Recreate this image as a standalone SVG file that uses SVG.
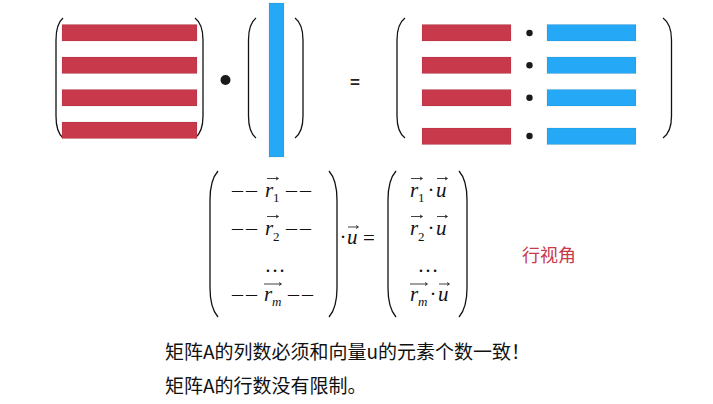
<svg xmlns="http://www.w3.org/2000/svg" width="713" height="404" viewBox="0 0 713 404">
<style>
.red{fill:#C8394B;stroke:#000;stroke-opacity:0.08;stroke-width:1}
.blue{fill:#25A9F6;stroke:#000;stroke-opacity:0.08;stroke-width:1}
.par{fill:none;stroke:#111;stroke-width:1.3}
.m{font-family:"Liberation Serif",serif;font-size:21px;fill:#111}
.d{font-family:"Liberation Serif",serif;font-size:22px;fill:#111;letter-spacing:3px}
.mi{font-family:"Liberation Serif",serif;font-size:21px;font-style:italic;fill:#111}
.sub{font-family:"Liberation Serif",serif;font-size:13px;fill:#111}
.subi{font-family:"Liberation Serif",serif;font-size:13px;font-style:italic;fill:#111}
.vec{fill:none;stroke:#111;stroke-width:0.8}
.cn{font-family:"Noto Sans CJK SC","Noto Sans",sans-serif;font-size:19px;fill:#111}
.lab{font-family:"Noto Sans CJK SC","Noto Sans",sans-serif;font-size:18px;fill:#C8394B}
</style>
<rect width="713" height="404" fill="#fff"/>
<g id="matrixA">
<path class="par" d="M63,18 Q56,24 56,40 L56,116 Q56,132 63,138"/>
<path class="par" d="M195,18 Q203,24 203,40 L203,116 Q203,132 195,138"/>
<rect class="red" x="62" y="24.5" width="135" height="16.5"/>
<rect class="red" x="62" y="57" width="135" height="16.5"/>
<rect class="red" x="62" y="89.5" width="135" height="16.5"/>
<rect class="red" x="62" y="122" width="135" height="16.5"/>
</g>
<g id="dotOp"><circle cx="225.5" cy="80" r="5" fill="#1a1a1a"/></g>
<g id="vectorU">
<path class="par" d="M256,18 Q248.5,24 248.5,40 L248.5,116 Q248.5,132 256,138"/>
<path class="par" d="M295,18 Q303,24 303,40 L303,116 Q303,132 295,138"/>
<rect class="blue" x="269" y="3" width="15" height="154"/>
</g>
<g id="equals"><text x="355" y="88" text-anchor="middle" font-family="Liberation Sans,sans-serif" font-size="17" font-weight="bold" fill="#222">=</text></g>
<g id="result">
<path class="par" d="M405,18 Q397,24 397,40 L397,116 Q397,132 405,138"/>
<path class="par" d="M663,18 Q671.5,24 671.5,40 L671.5,116 Q671.5,132 663,138"/>
<rect class="red" x="422" y="24.5" width="89" height="16.5"/>
<rect class="red" x="422" y="57" width="89" height="16.5"/>
<rect class="red" x="422" y="89.5" width="89" height="16.5"/>
<rect class="red" x="422" y="128" width="89" height="16.5"/>
<circle cx="529.5" cy="33" r="3.2" fill="#1a1a1a"/>
<circle cx="529.5" cy="65.3" r="3.2" fill="#1a1a1a"/>
<circle cx="529.5" cy="97.7" r="3.2" fill="#1a1a1a"/>
<circle cx="529.5" cy="136" r="3.2" fill="#1a1a1a"/>
<rect class="blue" x="547" y="24.5" width="89" height="16.5"/>
<rect class="blue" x="547" y="57" width="89" height="16.5"/>
<rect class="blue" x="547" y="89.5" width="89" height="16.5"/>
<rect class="blue" x="547" y="128" width="89" height="16.5"/>
</g>
<g id="formulaLeft">
<path class="par" d="M218,171 Q210,180 210,200 L210,288 Q210,308 218,317"/>
<path class="par" d="M329,171 Q337,180 337,200 L337,288 Q337,308 329,317"/>
<text class="d" x="232" y="197">––</text>
<text class="mi" x="265" y="197">r</text>
<text class="sub" x="273" y="202">1</text>
<text class="d" x="286" y="197">––</text>
<path class="vec" d="M267,178.5 H278 M276,177 L278.5,178.5 L276,180"/>
<text class="d" x="232" y="235">––</text>
<text class="mi" x="265" y="235">r</text>
<text class="sub" x="273" y="241">2</text>
<text class="d" x="286" y="235">––</text>
<path class="vec" d="M267,216.5 H278 M276,215 L278.5,216.5 L276,218"/>
<text class="m" x="275" y="272" text-anchor="middle">…</text>
<text class="d" x="232" y="301">––</text>
<text class="mi" x="264" y="301">r</text>
<text class="subi" x="272" y="306">m</text>
<text class="d" x="288" y="301">––</text>
<path class="vec" d="M264,284 H281 M279,282.5 L281.5,284 L279,285.5"/>
<text class="m" x="343" y="244" text-anchor="middle">·</text>
<text class="mi" x="347" y="244">u</text>
<path class="vec" d="M348,227 H358 M356,225.5 L358.5,227 L356,228.5"/>
<text class="m" x="369" y="245" text-anchor="middle">=</text>
</g>
<g id="formulaRight">
<path class="par" d="M396,171 Q388,180 388,200 L388,288 Q388,308 396,317"/>
<path class="par" d="M459,171 Q467,180 467,200 L467,288 Q467,308 459,317"/>
<text class="mi" x="410" y="197">r</text>
<text class="sub" x="418" y="202">1</text>
<text class="m" x="431" y="197" text-anchor="middle">·</text>
<text class="mi" x="436" y="197">u</text>
<path class="vec" d="M411,178.5 H422 M420,177 L422.5,178.5 L420,180"/>
<path class="vec" d="M437,178.5 H447 M445,177 L447.5,178.5 L445,180"/>
<text class="mi" x="410" y="235">r</text>
<text class="sub" x="418" y="241">2</text>
<text class="m" x="431" y="235" text-anchor="middle">·</text>
<text class="mi" x="436" y="235">u</text>
<path class="vec" d="M411,216.5 H422 M420,215 L422.5,216.5 L420,218"/>
<path class="vec" d="M437,216.5 H447 M445,215 L447.5,216.5 L445,218"/>
<text class="m" x="428" y="272" text-anchor="middle">…</text>
<text class="mi" x="410" y="301">r</text>
<text class="subi" x="418" y="306">m</text>
<text class="m" x="433" y="301" text-anchor="middle">·</text>
<text class="mi" x="438" y="301">u</text>
<path class="vec" d="M410,284 H427 M425,282.5 L427.5,284 L425,285.5"/>
<path class="vec" d="M439,284 H449 M447,282.5 L449.5,284 L447,285.5"/>
</g>
<g id="label"><text class="lab" x="522" y="262">行视角</text></g>
<g id="note1"><text class="cn" x="165" y="359">矩阵A的列数必须和向量u的元素个数一致！</text></g>
<g id="note2"><text class="cn" x="165" y="393">矩阵A的行数没有限制。</text></g>
</svg>
